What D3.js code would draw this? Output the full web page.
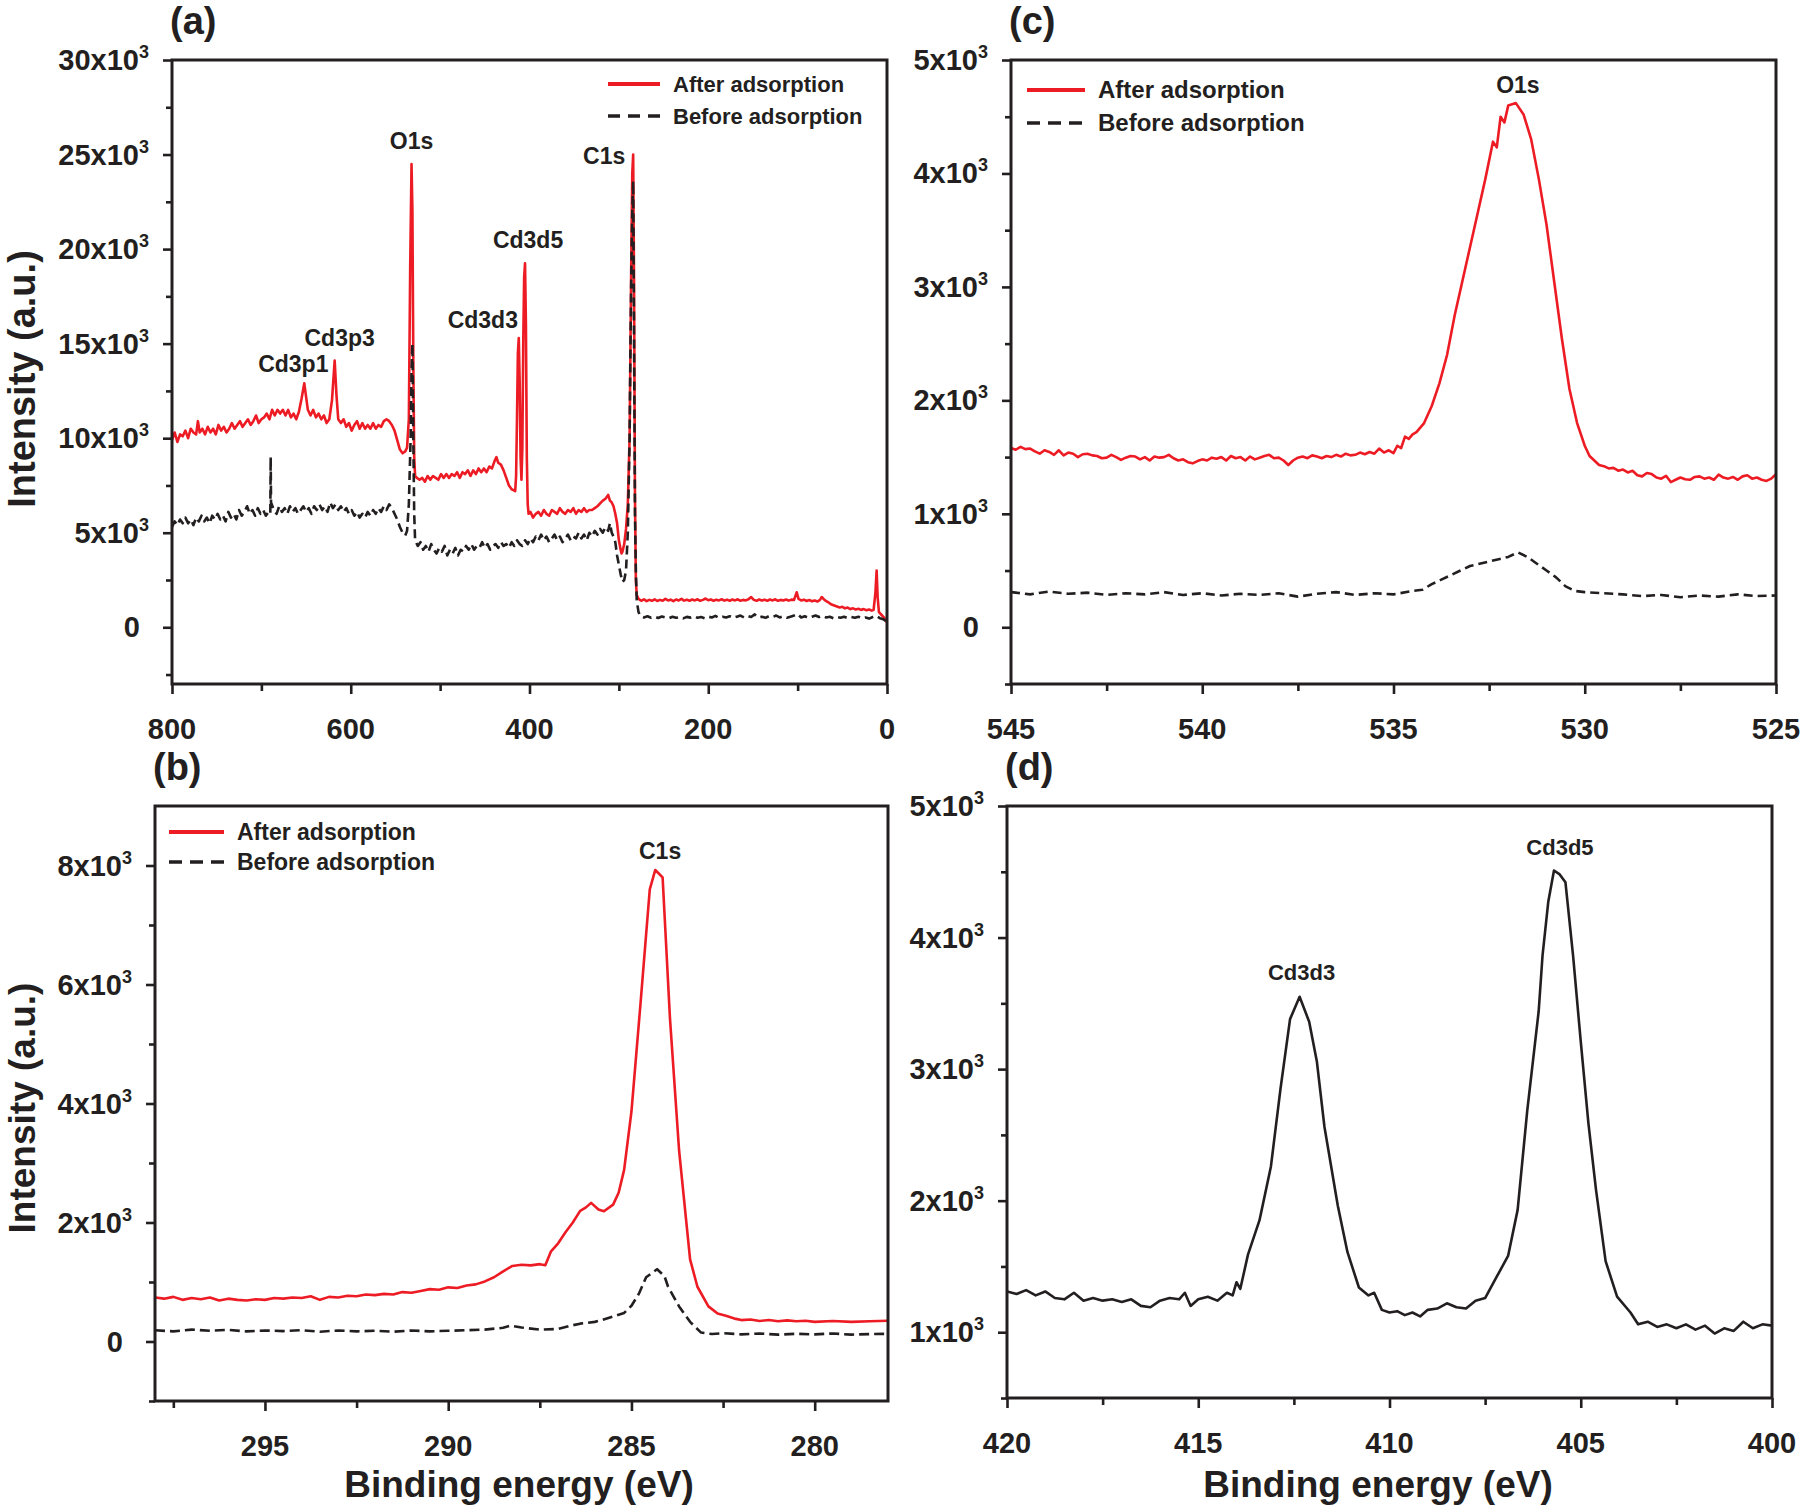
<!DOCTYPE html>
<html><head><meta charset="utf-8">
<script src="https://cdn.jsdelivr.net/npm/d3@7"></script>
<style>
html,body{margin:0;padding:0;background:#fff;}
svg{display:block;font-family:"Liberation Sans",Arial,Helvetica,sans-serif;}
</style></head><body>
<svg id="chart" width="1800" height="1505"></svg>
<script>
// ---------------- DATA ----------------
// Panel (a) survey spectra: [binding energy eV, intensity a.u.]
const surveyAfter = [[800,9900],[797,10300],[794,9800],[791,10200],[788,10100],[785,10400],[782,10000],[779,10500],[776,10300],[773,10200],[771,10900],[769,10300],[766,10500],[763,10200],[760,10600],[757,10300],[754,10500],[751,10200],[748,10700],[745,10400],[742,10600],[739,10300],[736,10500],[733,10800],[730,10500],[727,10700],[724,10900],[721,10600],[718,10800],[715,11000],[712,10700],[709,10900],[706,11200],[703,10800],[700,11000],[697,11100],[694,11300],[691,11000],[688,11500],[685,11200],[682,11500],[679,11300],[676,11500],[673,11200],[670,11500],[667,11100],[664,11300],[661,11000],[658,11400],[655,12100],[652,12900],[650,12200],[648,11500],[645,11200],[642,11500],[639,11100],[636,11300],[633,11000],[630,11200],[627,10800],[624,11000],[621,12000],[618,14100],[616,12300],[614,11000],[611,10800],[608,11000],[605,10600],[602,10800],[599,10400],[596,10700],[593,10900],[590,10500],[587,10800],[584,10500],[581,10700],[578,10500],[575,10800],[572,10500],[569,10700],[566,10600],[563,10900],[560,11000],[557,10900],[554,10700],[551,10400],[548,9900],[545,9400],[542,9200],[539,9300],[537,9500],[535,11000],[533.5,19000],[532,24500],[531,22000],[530,14000],[529,9000],[528,8000],[526,7900],[523,7800],[520,7900],[517,7700],[514,8000],[511,7800],[508,8000],[505,7900],[502,7800],[499,8100],[496,7900],[493,8100],[490,7900],[487,8100],[484,8000],[481,8200],[478,7900],[475,8200],[472,8100],[469,8300],[466,8000],[463,8300],[460,8100],[457,8400],[454,8200],[451,8400],[448,8200],[445,8500],[442,8400],[439,8800],[437,9000],[435,8700],[432,8600],[429,8300],[426,7900],[423,7500],[420,7300],[418,7250],[416,7200],[415,8000],[414,11000],[413,14500],[412,15300],[411,13000],[410,9000],[409,7800],[408,9500],[407,15000],[406,18500],[405,19250],[404,16000],[403,9000],[402,6500],[401,6000],[399,6100],[396,5800],[393,6000],[390,6100],[387,5900],[384,6200],[381,6000],[378,5900],[375,6200],[372,6100],[369,6000],[366,6300],[363,6100],[360,6000],[357,6200],[354,6100],[351,6300],[348,6000],[345,6200],[342,6100],[339,6300],[336,6100],[333,6200],[330,6200],[327,6300],[324,6400],[321,6550],[318,6700],[315,6800],[312,7000],[310,6700],[308,6600],[306,6400],[304,6000],[302,5500],[300,4600],[298,4100],[297,3900],[296,4000],[294,4400],[292,5200],[290,6500],[288,10000],[287,15000],[286,20000],[285,24000],[284,25000],[283,18000],[282,7000],[281,2500],[280,1700],[278,1500],[275,1400],[272,1480],[269,1380],[266,1450],[263,1400],[260,1480],[257,1390],[254,1450],[251,1400],[248,1500],[245,1420],[242,1460],[239,1380],[236,1470],[233,1420],[230,1500],[227,1410],[224,1460],[221,1400],[218,1470],[215,1420],[212,1480],[209,1400],[206,1450],[203,1520],[200,1430],[197,1470],[194,1400],[191,1460],[188,1420],[185,1480],[182,1410],[179,1460],[176,1400],[173,1470],[170,1420],[167,1480],[164,1400],[161,1450],[158,1420],[155,1480],[152,1600],[149,1450],[146,1400],[143,1470],[140,1420],[137,1460],[134,1400],[131,1470],[128,1420],[125,1480],[122,1400],[119,1450],[116,1420],[113,1470],[110,1410],[107,1460],[104,1450],[101,1850],[99,1500],[96,1420],[93,1460],[90,1390],[87,1440],[84,1380],[81,1420],[78,1360],[75,1450],[73,1600],[71,1500],[68,1380],[65,1300],[62,1200],[59,1150],[56,1100],[53,1050],[50,1080],[47,1000],[44,1040],[41,960],[38,1000],[35,940],[32,980],[29,920],[26,960],[23,900],[20,940],[17,880],[15,920],[13,1800],[11.6,3000],[10.5,1600],[9,800],[6,650],[3,500],[1,320],[0,260]];
const surveyBefore = [[800,5300],[797,5600],[794,5400],[791,5700],[788,5500],[785,5800],[782,5500],[779,5700],[776,5400],[773,5800],[770,5600],[767,5900],[764,5600],[761,5800],[758,5500],[755,5900],[752,5700],[749,6000],[746,5700],[743,5900],[740,5600],[737,6100],[734,5800],[731,6000],[728,5700],[725,6200],[722,5900],[719,6100],[716,6400],[713,6000],[710,6200],[707,5900],[704,6300],[701,6000],[698,6200],[695,5900],[692,6100],[690,6000],[689.6,9000],[689.2,6600],[686,6200],[683,6000],[680,6400],[677,6100],[674,6300],[671,6000],[668,6400],[665,6100],[662,6300],[659,6000],[656,6200],[653,6400],[650,6100],[647,6300],[644,6000],[641,6400],[638,6200],[635,6500],[632,6200],[629,6400],[626,6100],[623,6600],[620,6300],[617,6500],[614,6200],[611,6400],[608,6100],[605,6300],[602,6000],[599,6200],[596,5900],[593,6100],[590,5800],[587,6000],[584,5800],[581,6100],[578,5900],[575,6200],[572,6000],[569,6300],[566,6100],[563,6400],[560,6200],[557,6500],[554,6300],[551,6000],[548,5700],[545,5300],[542,5000],[539,4850],[537,5100],[535,6500],[533,10000],[532,13500],[531,15000],[530,10000],[529,6000],[528,4600],[525,4300],[522,4500],[519,4100],[516,4300],[513,4000],[510,4400],[507,4100],[504,3900],[501,4200],[498,4000],[495,4300],[492,3800],[489,4100],[486,3900],[483,4200],[480,3800],[477,4100],[474,4000],[471,4300],[468,4100],[465,4400],[462,4100],[459,4300],[456,4200],[453,4500],[450,4200],[447,4400],[444,4100],[441,4300],[438,4400],[435,4200],[432,4500],[429,4300],[426,4400],[423,4200],[420,4500],[417,4300],[414,4600],[411,4400],[408,4300],[405,4600],[402,4400],[399,4700],[396,4500],[393,4800],[390,4600],[387,4900],[384,4600],[381,4800],[378,4500],[375,4700],[372,4900],[369,4600],[366,4800],[363,4500],[360,4700],[357,4900],[354,4600],[351,4800],[348,4700],[345,5000],[342,4700],[339,4900],[336,4600],[333,5000],[330,4800],[327,5100],[324,4900],[321,5200],[318,5000],[315,5300],[312,5100],[310,5500],[308,5000],[306,4800],[304,4500],[302,3800],[300,3300],[298,2800],[296,2400],[294,2500],[292,3000],[290,5000],[288,10000],[287,15000],[286,19000],[285,22000],[284,23600],[283,15000],[282,6000],[281,3000],[280,1400],[278,800],[276,600],[272,520],[268,580],[264,500],[260,560],[256,490],[252,570],[248,520],[244,480],[240,560],[236,500],[232,540],[228,470],[224,550],[220,510],[216,580],[212,500],[208,540],[204,480],[200,560],[196,520],[192,600],[188,500],[184,560],[180,520],[176,580],[172,500],[168,560],[164,620],[160,520],[156,600],[152,540],[148,680],[144,520],[140,560],[136,500],[132,590],[128,540],[124,620],[120,520],[116,580],[112,500],[108,560],[104,620],[100,700],[96,520],[92,580],[88,500],[84,560],[80,620],[76,540],[72,600],[68,520],[64,560],[60,480],[56,540],[52,500],[48,560],[44,480],[40,540],[36,500],[32,560],[28,480],[24,520],[20,460],[16,540],[12,600],[8,480],[4,420],[0,300]];

// Panel (c) O1s region
const o1sAfter = [[545,1580],[544.875,1565],[544.75,1590],[544.625,1570],[544.5,1575],[544.375,1550],[544.25,1530],[544.125,1560],[544,1545],[543.875,1520],[543.75,1560],[543.625,1515],[543.5,1540],[543.375,1530],[543.25,1500],[543.125,1525],[543,1530],[542.875,1515],[542.75,1510],[542.625,1490],[542.5,1495],[542.375,1520],[542.25,1500],[542.125,1475],[542,1495],[541.875,1510],[541.75,1505],[541.625,1480],[541.5,1500],[541.375,1470],[541.25,1505],[541.125,1495],[541,1500],[540.875,1520],[540.75,1490],[540.625,1470],[540.5,1480],[540.375,1455],[540.25,1445],[540.125,1465],[540,1480],[539.875,1470],[539.75,1495],[539.625,1485],[539.5,1500],[539.375,1470],[539.25,1510],[539.125,1490],[539,1500],[538.875,1470],[538.75,1505],[538.625,1480],[538.5,1495],[538.375,1510],[538.25,1520],[538.125,1490],[538,1495],[537.875,1470],[537.75,1430],[537.625,1470],[537.5,1495],[537.375,1505],[537.25,1490],[537.125,1515],[537,1505],[536.875,1490],[536.75,1510],[536.625,1500],[536.5,1520],[536.375,1505],[536.25,1530],[536.125,1515],[536,1520],[535.875,1540],[535.75,1525],[535.625,1545],[535.5,1530],[535.375,1575],[535.25,1540],[535.125,1560],[535,1535],[534.9,1600],[534.8,1580],[534.7,1680],[534.6,1660],[534.5,1700],[534.4,1720],[534.3,1760],[534.2,1800],[534,1950],[533.8,2150],[533.6,2400],[533.4,2750],[533.2,3050],[533,3350],[532.8,3650],[532.6,3950],[532.4,4280],[532.3,4230],[532.2,4500],[532.1,4450],[532,4600],[531.8,4620],[531.6,4520],[531.4,4300],[531.2,3950],[531,3550],[530.8,3050],[530.6,2550],[530.4,2100],[530.2,1800],[530,1600],[529.875,1510],[529.75,1470],[529.625,1430],[529.5,1420],[529.375,1400],[529.25,1405],[529.125,1380],[529,1390],[528.875,1365],[528.75,1380],[528.625,1340],[528.5,1330],[528.375,1360],[528.25,1350],[528.125,1320],[528,1310],[527.875,1335],[527.75,1280],[527.625,1300],[527.5,1320],[527.375,1305],[527.25,1300],[527.125,1325],[527,1330],[526.875,1310],[526.75,1320],[526.625,1300],[526.5,1345],[526.375,1320],[526.25,1310],[526.125,1325],[526,1300],[525.875,1330],[525.75,1340],[525.625,1310],[525.5,1320],[525.375,1300],[525.25,1290],[525.125,1310],[525,1350]];
const o1sBefore = [[545,310],[544.5,290],[544,315],[543.5,295],[543,305],[542.5,285],[542,300],[541.5,290],[541,310],[540.5,285],[540,300],[539.5,280],[539,295],[538.5,285],[538,300],[537.5,270],[537,295],[536.5,310],[536,285],[535.5,300],[535,290],[534.5,320],[534.25,330],[534,380],[533.75,420],[533.5,460],[533.25,500],[533,540],[532.75,560],[532.5,580],[532.25,600],[532,620],[531.75,660],[531.5,620],[531.25,560],[531,500],[530.75,440],[530.5,360],[530.25,320],[530,310],[529.5,300],[529,290],[528.5,275],[528,285],[527.5,265],[527,280],[526.5,270],[526,290],[525.5,275],[525,280]];

// Panel (b) C1s region
const c1sAfter = [[298,740],[297.75,720],[297.5,750],[297.25,700],[297,730],[296.75,710],[296.5,740],[296.25,690],[296,720],[295.75,700],[295.5,690],[295.25,710],[295,700],[294.75,730],[294.5,720],[294.25,740],[294,730],[293.75,760],[293.5,700],[293.25,750],[293,740],[292.75,770],[292.5,760],[292.25,790],[292,780],[291.75,800],[291.5,790],[291.25,830],[291,820],[290.75,850],[290.5,880],[290.25,870],[290,910],[289.75,900],[289.5,940],[289.25,960],[289,1010],[288.75,1080],[288.5,1180],[288.25,1270],[288,1290],[287.75,1280],[287.5,1300],[287.35,1280],[287.2,1510],[287,1650],[286.8,1835],[286.6,2000],[286.4,2195],[286.25,2250],[286.1,2330],[285.9,2220],[285.75,2190],[285.5,2300],[285.35,2500],[285.2,2885],[285,3865],[284.75,5700],[284.5,7600],[284.35,7925],[284.15,7800],[283.95,5440],[283.7,3210],[283.4,1380],[283.2,920],[282.9,590],[282.65,470],[282.4,430],[282.15,380],[282,360],[281.75,370],[281.5,345],[281.25,360],[281,340],[280.75,355],[280.5,340],[280.25,350],[280,330],[279.5,345],[279,330],[278.5,340],[278,350]];
const c1sBefore = [[298,190],[297.5,170],[297,200],[296.5,180],[296,195],[295.5,170],[295,185],[294.5,175],[294,190],[293.5,165],[293,185],[292.5,170],[292,180],[291.5,165],[291,185],[290.5,170],[290,180],[289.5,190],[289,200],[288.5,230],[288.3,265],[288,235],[287.5,200],[287,210],[286.7,260],[286.4,300],[286,330],[285.8,360],[285.5,420],[285.2,480],[285,600],[284.8,800],[284.6,1080],[284.3,1215],[284.1,1100],[284,920],[283.7,590],[283.4,330],[283.1,150],[282.8,125],[282.5,140],[282,120],[281.5,135],[281,115],[280.5,130],[280,120],[279.5,135],[279,115],[278.5,125],[278,130]];

// Panel (d) Cd3d region (after adsorption)
const cd3d = [[420,1310],[419.75,1290],[419.5,1320],[419.25,1280],[419,1310],[418.75,1260],[418.5,1250],[418.25,1300],[418,1240],[417.75,1260],[417.5,1240],[417.25,1250],[417,1230],[416.75,1250],[416.5,1200],[416.25,1190],[416,1240],[415.75,1260],[415.5,1250],[415.35,1300],[415.2,1200],[415,1250],[414.75,1270],[414.5,1240],[414.25,1300],[414.1,1280],[414,1380],[413.9,1330],[413.7,1590],[413.4,1850],[413.1,2260],[412.85,2850],[412.6,3380],[412.35,3550],[412.1,3360],[411.9,3060],[411.7,2560],[411.35,1960],[411.1,1610],[410.8,1340],[410.55,1280],[410.4,1300],[410.2,1170],[410,1150],[409.8,1160],[409.6,1130],[409.4,1150],[409.2,1120],[409,1170],[408.75,1180],[408.5,1220],[408.25,1190],[408,1180],[407.75,1240],[407.5,1260],[407.2,1420],[406.9,1580],[406.65,1930],[406.4,2680],[406.1,3440],[406,3860],[405.85,4270],[405.7,4510],[405.55,4480],[405.4,4420],[405.2,3860],[405,3210],[404.8,2590],[404.6,2080],[404.35,1540],[404.05,1270],[403.7,1150],[403.5,1060],[403.25,1080],[403,1040],[402.75,1060],[402.5,1030],[402.25,1060],[402,1020],[401.75,1050],[401.5,990],[401.25,1030],[401,1010],[400.75,1080],[400.5,1030],[400.25,1060],[400,1050]];

// Tick values
const surveyXTicks = [800,600,400,200,0];
const surveyXMinor = [700,500,300,100];
const surveyYTicks = [0,5000,10000,15000,20000,25000,30000];
const surveyYMinor = [-2500,2500,7500,12500,17500,22500,27500];
const o1sXTicks = [545,540,535,530,525];
const o1sXMinor = [542.5,537.5,532.5,527.5];
const o1sYTicks = [0,1000,2000,3000,4000,5000];
const o1sYMinor = [-500,500,1500,2500,3500,4500];
const c1sXTicks = [295,290,285,280];
const c1sXMinor = [297.5,292.5,287.5,282.5];
const c1sYTicks = [0,2000,4000,6000,8000];
const c1sYMinor = [-1000,1000,3000,5000,7000];
const cdXTicks = [420,415,410,405,400];
const cdXMinor = [417.5,412.5,407.5,402.5];
const cdYTicks = [1000,2000,3000,4000,5000];
const cdYMinor = [500,1500,2500,3500,4500];

// Text
const legendLabels = ["After adsorption","Before adsorption"];
const yTitle = "Intensity (a.u.)";
const xTitle = "Binding energy (eV)";

// ---------------- DRAWING ----------------
const RED = "#ed1c24", INK = "#231f20";
const svg = d3.select("#chart");

function fmtParts(v){
  if (v === 0) return null;
  return (v/1000) + "x10";
}

function panel(cfg){
  const x = d3.scaleLinear().domain(cfg.xDomain).range([cfg.left, cfg.right]);
  const y = d3.scaleLinear().domain(cfg.yDomain).range([cfg.bottom, cfg.top]);
  const g = svg.append("g");
  const cid = "clip-" + cfg.name;
  g.append("clipPath").attr("id", cid).append("rect")
    .attr("x", cfg.left).attr("y", cfg.top)
    .attr("width", cfg.right - cfg.left).attr("height", cfg.bottom - cfg.top);

  function styleAxis(sel){
    sel.select(".domain").remove();
    sel.selectAll(".tick line").attr("stroke", INK).attr("stroke-width", 2.6);
    sel.selectAll(".tick text").remove();
  }
  g.append("g").attr("transform", `translate(0,${cfg.bottom})`)
    .call(d3.axisBottom(x).tickValues(cfg.xTicks).tickSize(10).tickSizeOuter(0)).call(styleAxis);
  g.append("g").attr("transform", `translate(0,${cfg.bottom})`)
    .call(d3.axisBottom(x).tickValues(cfg.xMinor).tickSize(7).tickSizeOuter(0)).call(styleAxis);
  g.append("g").attr("transform", `translate(${cfg.left},0)`)
    .call(d3.axisLeft(y).tickValues(cfg.yTicks).tickSize(9).tickSizeOuter(0)).call(styleAxis);
  g.append("g").attr("transform", `translate(${cfg.left},0)`)
    .call(d3.axisLeft(y).tickValues(cfg.yMinor).tickSize(6).tickSizeOuter(0)).call(styleAxis);

  g.selectAll(null).data(cfg.xTicks).enter().append("text")
    .attr("x", d => x(d)).attr("y", cfg.bottom + 55)
    .attr("text-anchor", "middle").attr("font-size", 29).attr("font-weight", "bold")
    .attr("fill", INK).text(d => d);
  cfg.yTicks.forEach(v => {
    const t = g.append("text").attr("y", y(v) + 10)
      .attr("text-anchor", "end").attr("font-size", 29).attr("font-weight", "bold").attr("fill", INK);
    const base = fmtParts(v);
    if (base === null) {
      t.attr("x", cfg.left - 32).text("0");
    } else {
      t.attr("x", cfg.left - 23);
      t.append("tspan").text(base);
      t.append("tspan").attr("dy", -12).attr("font-size", 18).text("3");
    }
  });

  const line = d3.line().x(d => x(d[0])).y(d => y(d[1]));
  const cg = g.append("g").attr("clip-path", `url(#${cid})`);
  cfg.series.forEach(s => {
    cg.append("path").datum(s.data).attr("d", line)
      .attr("fill", "none").attr("stroke", s.color).attr("stroke-width", s.width || 2.6)
      .attr("stroke-linejoin", "round")
      .attr("stroke-dasharray", s.dash || null);
  });

  g.append("rect").attr("x", cfg.left).attr("y", cfg.top)
    .attr("width", cfg.right - cfg.left).attr("height", cfg.bottom - cfg.top)
    .attr("fill", "none").attr("stroke", INK).attr("stroke-width", 3);

  g.append("text").attr("x", cfg.left - 2).attr("y", cfg.top - 26)
    .attr("font-size", 38).attr("font-weight", "bold").attr("fill", INK).text(cfg.letter);

  if (cfg.legend) {
    const L = cfg.legend;
    cfg.series.forEach((s, i) => {
      const yy = L.y + i * L.gap;
      g.append("line").attr("x1", L.x).attr("x2", L.x + L.len).attr("y1", yy).attr("y2", yy)
        .attr("stroke", s.color).attr("stroke-width", i === 0 ? 4 : 3.5)
        .attr("stroke-dasharray", i === 0 ? null : L.dash);
      g.append("text").attr("x", L.x + L.len + 13).attr("y", yy + 8)
        .attr("font-size", L.size).attr("font-weight", "bold").attr("fill", INK).text(legendLabels[i]);
    });
  }

  (cfg.notes || []).forEach(n => {
    g.append("text").attr("x", x(n.e)).attr("y", y(n.v))
      .attr("dx", n.dx || 0).attr("dy", n.dy || 0)
      .attr("text-anchor", "middle").attr("font-size", n.size || 23).attr("font-weight", "bold")
      .attr("fill", INK).text(n.t);
  });

  return {x, y};
}

// Panel (a)
panel({
  name: "a", letter: "(a)", left: 172, right: 887, top: 60, bottom: 684,
  xDomain: [800, 0], yDomain: [-3000, 30000],
  xTicks: surveyXTicks, xMinor: surveyXMinor, yTicks: surveyYTicks, yMinor: surveyYMinor,
  series: [{data: surveyAfter, color: RED}, {data: surveyBefore, color: INK, dash: "9,5"}],
  legend: {x: 608, y: 84, gap: 32, len: 52, size: 22, dash: "12,8"},
  notes: [
    {t: "O1s", e: 532, v: 24500, dx: 0, dy: -15},
    {t: "C1s", e: 284, v: 25000, dx: -29, dy: 9},
    {t: "Cd3d5", e: 405, v: 19250, dx: 3, dy: -15},
    {t: "Cd3d3", e: 412, v: 15300, dx: -36, dy: -10},
    {t: "Cd3p3", e: 618, v: 14100, dx: 5, dy: -15},
    {t: "Cd3p1", e: 652, v: 12900, dx: -11, dy: -11}
  ]
});

// Panel (c)
panel({
  name: "c", letter: "(c)", left: 1011, right: 1776, top: 60, bottom: 684,
  xDomain: [545, 525], yDomain: [-500, 5000],
  xTicks: o1sXTicks, xMinor: o1sXMinor, yTicks: o1sYTicks, yMinor: o1sYMinor,
  series: [{data: o1sAfter, color: RED}, {data: o1sBefore, color: INK, dash: "9,5"}],
  legend: {x: 1027, y: 90, gap: 33, len: 58, size: 24, dash: "13,8"},
  notes: [{t: "O1s", e: 531.8, v: 4620, dx: 2, dy: -10}]
});

// Panel (b)
panel({
  name: "b", letter: "(b)", left: 155, right: 888, top: 806, bottom: 1401,
  xDomain: [298, 278], yDomain: [-1000, 9000],
  xTicks: c1sXTicks, xMinor: c1sXMinor, yTicks: c1sYTicks, yMinor: c1sYMinor,
  series: [{data: c1sAfter, color: RED}, {data: c1sBefore, color: INK, dash: "10,5"}],
  legend: {x: 169, y: 832, gap: 30, len: 55, size: 23, dash: "13,8"},
  notes: [{t: "C1s", e: 284.3, v: 7925, dx: 3, dy: -11}]
});

// Panel (d)
panel({
  name: "d", letter: "(d)", left: 1007, right: 1772, top: 806, bottom: 1398,
  xDomain: [420, 400], yDomain: [500, 5000],
  xTicks: cdXTicks, xMinor: cdXMinor, yTicks: cdYTicks, yMinor: cdYMinor,
  series: [{data: cd3d, color: INK}],
  notes: [
    {t: "Cd3d3", e: 412.35, v: 3550, dx: 2, dy: -17, size: 22},
    {t: "Cd3d5", e: 405.7, v: 4510, dx: 6, dy: -15, size: 22}
  ]
});

// Axis titles
svg.append("text").attr("transform", "translate(35,379) rotate(-90)")
  .attr("text-anchor", "middle").attr("font-size", 38).attr("font-weight", "bold").attr("fill", INK).text(yTitle);
svg.append("text").attr("transform", "translate(35,1108) rotate(-90)")
  .attr("text-anchor", "middle").attr("font-size", 37).attr("font-weight", "bold").attr("fill", INK).text(yTitle);
svg.append("text").attr("x", 519).attr("y", 1497)
  .attr("text-anchor", "middle").attr("font-size", 37).attr("font-weight", "bold").attr("fill", INK).text(xTitle);
svg.append("text").attr("x", 1378).attr("y", 1497)
  .attr("text-anchor", "middle").attr("font-size", 37).attr("font-weight", "bold").attr("fill", INK).text(xTitle);
</script>
</body></html>
